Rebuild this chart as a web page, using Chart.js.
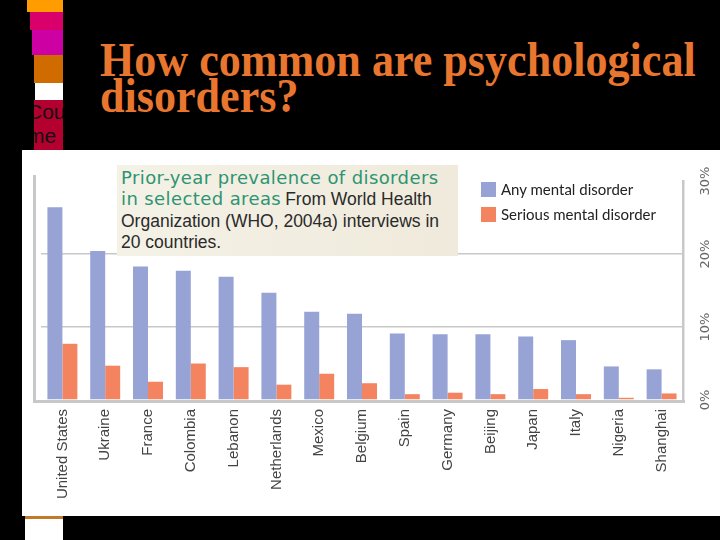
<!DOCTYPE html>
<html>
<head>
<meta charset="utf-8">
<script src="https://cdn.jsdelivr.net/npm/chart.js@4"></script>
<style>
  html, body { margin: 0; padding: 0; background: #000; }
  body { width: 720px; height: 540px; position: relative; overflow: hidden; }
  .blk { position: absolute; }
  #title { position: absolute; left: 100px; top: 43px; color: #e9762f;
           font: bold 42px "Liberation Serif", "Times New Roman", serif; line-height: 31px;
           transform-origin: 0 0; transform: scale(1.05, 1.15); white-space: nowrap; }
  #panel { position: absolute; left: 22px; top: 150px; width: 698px; height: 366px; background: #fff; }
  #note { position: absolute; left: 117px; top: 165px; width: 337px; height: 89px; padding: 2px 0 0 4px;
          background: linear-gradient(90deg, #f4f1e6, #efeadb); }
  #note .h { color: #2e9473; font: 18px "DejaVu Sans", sans-serif; letter-spacing: 0.4px; }
  #note .b { color: #2a2a2a; font: 17.5px "Liberation Sans Narrow", "Liberation Sans", sans-serif; }
  #note div { line-height: 23px; white-space: nowrap; }
  #legend { position: absolute; left: 481px; top: 180px; }
  #legend div { height: 25px; font: 15px Lato, "Open Sans", sans-serif; color: #222; white-space: nowrap; }
  #legend span { display: inline-block; width: 15px; height: 15px; vertical-align: -2px; margin-right: 5px; }
</style>
</head>
<body>
<div class="blk" style="left:27px;top:0;width:36px;height:12px;background:#ff9c00"></div>
<div class="blk" style="left:30px;top:12px;width:33px;height:18px;background:#d9006b"></div>
<div class="blk" style="left:32px;top:30px;width:31px;height:25px;background:#cc00a3"></div>
<div class="blk" style="left:34px;top:55px;width:29px;height:28px;background:#d06b00"></div>
<div class="blk" style="left:35px;top:83px;width:28px;height:17px;background:#fff"></div>
<div class="blk" style="left:34px;top:100px;width:29px;height:50px;background:#b3002f;overflow:hidden;font:21px 'Liberation Sans',sans-serif;line-height:24px;color:#111">
  <div style="margin-left:-7px">Cou</div><div style="margin-left:-7px">me</div>
</div>
<div class="blk" style="left:25px;top:516px;width:38px;height:3px;background:#c07a2a"></div>
<div class="blk" style="left:25px;top:519px;width:38px;height:21px;background:#fff"></div>

<div id="title">How common are psychological<br>disorders?</div>

<div id="panel"><canvas id="chart" width="698" height="366"></canvas></div>

<div id="note">
  <div class="h">Prior-year prevalence of disorders</div>
  <div><span class="h">in selected areas</span> <span class="b">From World Health</span></div>
  <div class="b">Organization (WHO, 2004a) interviews in</div>
  <div class="b">20 countries.</div>
</div>
<div id="legend"></div>

<script>
const countries = ["United States", "Ukraine", "France", "Colombia", "Lebanon", "Netherlands", "Mexico",
                   "Belgium", "Spain", "Germany", "Beijing", "Japan", "Italy", "Nigeria", "Shanghai"];
const anyDisorder = [26.4, 20.4, 18.3, 17.7, 16.9, 14.7, 12.1, 11.8, 9.1, 9.0, 9.0, 8.7, 8.2, 4.6, 4.2];
const seriousDisorder = [7.7, 4.7, 2.5, 5.0, 4.5, 2.1, 3.6, 2.3, 0.8, 1.0, 0.8, 1.5, 0.8, 0.3, 0.9];
const yTicks = [0, 10, 20, 30];
const seriesNames = ["Any mental disorder", "Serious mental disorder"];
const seriesColors = ["#97a2d5", "#f4845f"];

const axisGray = "#c8c8c8";

// frame lines on the left and bottom, tick labels rotated on the right
const framePlugin = {
    id: "frame",
    afterDraw(chart) {
        const ctx = chart.ctx;
        const area = chart.chartArea;
        const y = chart.scales.y;
        ctx.save();
        ctx.strokeStyle = axisGray;
        ctx.lineWidth = 3;
        ctx.beginPath();
        ctx.moveTo(area.left - 6.5, area.top - 6);
        ctx.lineTo(area.left - 6.5, area.bottom + 3);
        ctx.moveTo(area.left - 8, area.bottom + 1.5);
        ctx.lineTo(area.right + 2, area.bottom + 1.5);
        ctx.stroke();

        ctx.fillStyle = "#666";
        ctx.font = "13px 'DejaVu Sans', sans-serif";
        ctx.textAlign = "center";
        ctx.textBaseline = "middle";
        yTicks.forEach(v => {
            ctx.save();
            ctx.translate(area.right + 23, y.getPixelForValue(v));
            ctx.rotate(-Math.PI / 2);
            ctx.fillText(v + "%", 0, 0);
            ctx.restore();
        });
        ctx.restore();
    }
};

const data = {
    labels: countries,
    datasets: [{
            label: seriesNames[0],
            data: anyDisorder,
            backgroundColor: seriesColors[0]
        }, {
            label: seriesNames[1],
            data: seriousDisorder,
            backgroundColor: seriesColors[1]
        }]
};

const config = {
    type: "bar",
    data: data,
    options: {
        responsive: false,
        animation: false,
        layout: { padding: { top: 31, left: 19, right: 0, bottom: 0 } },
        datasets: { bar: { categoryPercentage: 0.7, barPercentage: 1.0 } },
        plugins: { legend: { display: false }, tooltip: { enabled: false } },
        scales: {
            x: {
                grid: { display: false, drawTicks: false },
                border: { display: false },
                ticks: {
                    minRotation: 90, maxRotation: 90, padding: 9,
                    color: "#444",
                    font: { family: "'Liberation Sans', Arial, sans-serif", size: 15 }
                },
                afterFit(scale) { scale.height = 116; }
            },
            y: {
                position: "right",
                min: 0, max: 30,
                afterBuildTicks(scale) { scale.ticks = yTicks.map(v => ({ value: v })); },
                ticks: { display: false },
                grid: {
                    drawTicks: false,
                    lineWidth: 1.5,
                    color: c => (c.tick && (c.tick.value === 10 || c.tick.value === 20)) ? axisGray : "rgba(0,0,0,0)"
                },
                border: { color: axisGray, width: 2.5 },
                afterFit(scale) { scale.width = 37; }
            }
        }
    },
    plugins: [framePlugin]
};

let ctx = document.getElementById("chart").getContext("2d");
new Chart(ctx, config);

let legend = document.getElementById("legend");
seriesNames.forEach((name, i) => {
    let row = document.createElement("div");
    row.innerHTML = '<span style="background:' + seriesColors[i] + '"></span>' + name;
    legend.appendChild(row);
});
</script>
</body>
</html>
